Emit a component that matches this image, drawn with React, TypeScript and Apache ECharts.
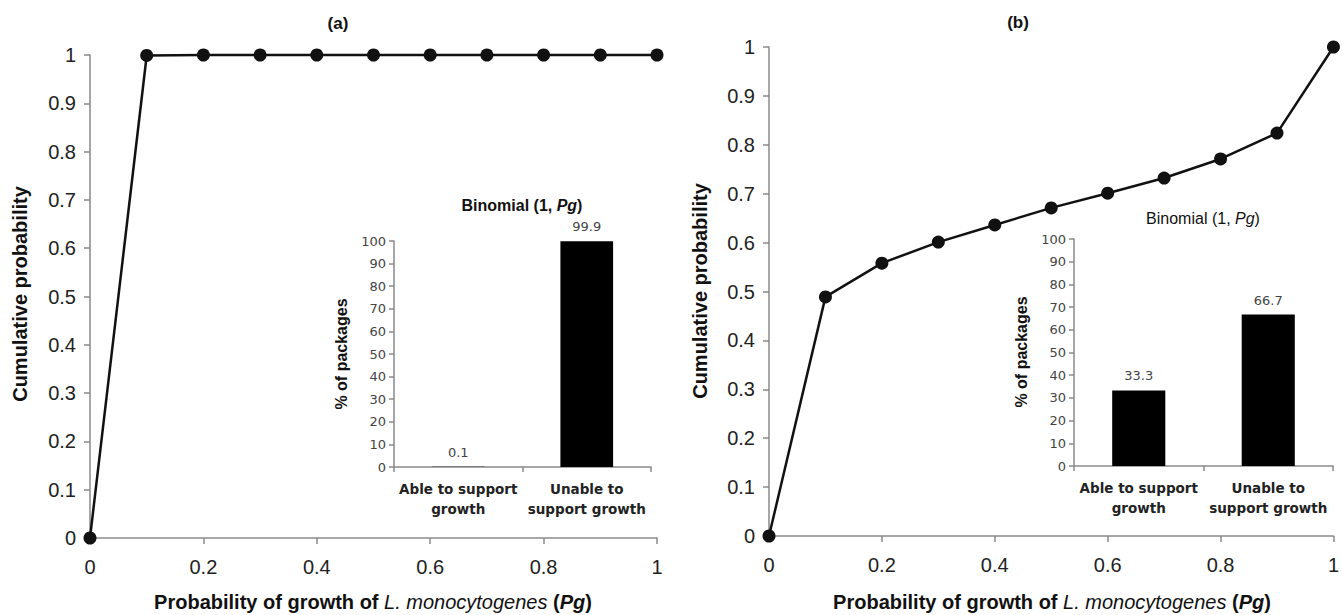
import React, { useEffect, useRef } from "react";
import * as echarts from "echarts";

const pgValues = [0, 0.1, 0.2, 0.3, 0.4, 0.5, 0.6, 0.7, 0.8, 0.9, 1];
const cumProbA = [0, 0.999, 1, 1, 1, 1, 1, 1, 1, 1, 1];
const cumProbB = [0, 0.489, 0.558, 0.601, 0.636, 0.671, 0.701, 0.732, 0.771, 0.824, 1];
const insetCategories = ["Able to support\ngrowth", "Unable to\nsupport growth"];
const insetValuesA = [0.1, 99.9];
const insetValuesB = [33.3, 66.7];

const SANS = "Liberation Sans, Arial, sans-serif";
const WIDE = "DejaVu Sans, Verdana, sans-serif";
const AXIS_GRAY = "#8a8a8a";

function mainX(gridIndex: number) {
  return {
    type: "value",
    gridIndex,
    min: 0,
    max: 1,
    interval: 0.2,
    axisLine: { show: true, lineStyle: { color: AXIS_GRAY, width: 1.5 } },
    axisTick: { show: true, length: 6, lineStyle: { color: AXIS_GRAY, width: 1.5 } },
    axisLabel: { fontFamily: SANS, fontSize: 20, color: "#222", margin: 19 },
    splitLine: { show: false },
  };
}

function mainY(gridIndex: number) {
  return {
    type: "value",
    gridIndex,
    min: 0,
    max: 1,
    interval: 0.1,
    axisLine: { show: true, lineStyle: { color: AXIS_GRAY, width: 1.5 } },
    axisTick: { show: true, length: 6, lineStyle: { color: AXIS_GRAY, width: 1.5 } },
    axisLabel: { fontFamily: SANS, fontSize: 20, color: "#222", margin: 14 },
    splitLine: { show: false },
  };
}

function insetX(gridIndex: number) {
  return {
    type: "category",
    gridIndex,
    data: insetCategories,
    axisLine: { show: true, lineStyle: { color: AXIS_GRAY, width: 1.5 } },
    axisTick: { show: true, alignWithLabel: false, length: 5, lineStyle: { color: AXIS_GRAY, width: 1.5 } },
    axisLabel: {
      fontFamily: WIDE,
      fontSize: 13.5,
      fontWeight: "bold",
      color: "#222",
      lineHeight: 20,
      margin: 12,
      interval: 0,
    },
  };
}

function insetY(gridIndex: number) {
  return {
    type: "value",
    gridIndex,
    min: 0,
    max: 100,
    interval: 10,
    axisLine: { show: true, lineStyle: { color: AXIS_GRAY, width: 1.5 } },
    axisTick: { show: true, length: 5, lineStyle: { color: AXIS_GRAY, width: 1.5 } },
    axisLabel: { fontFamily: WIDE, fontSize: 13, color: "#444", margin: 8 },
    splitLine: { show: false },
  };
}

function lineSeries(idx: number, values: number[]) {
  return {
    type: "line",
    xAxisIndex: idx,
    yAxisIndex: idx,
    data: pgValues.map((x, i) => [x, values[i]]),
    symbol: "circle",
    symbolSize: 13,
    clip: false,
    lineStyle: { color: "#111", width: 2.5 },
    itemStyle: { color: "#111" },
    z: 3,
  };
}

function barSeries(idx: number, values: number[]) {
  return {
    type: "bar",
    xAxisIndex: idx,
    yAxisIndex: idx,
    data: values,
    barWidth: "41%",
    itemStyle: { color: "#000" },
    label: {
      show: true,
      position: "top",
      distance: 8,
      fontFamily: WIDE,
      fontSize: 13,
      color: "#444",
      formatter: (p: any) => String(p.value),
    },
    z: 4,
  };
}

const xTitleRich = {
  b: { fontFamily: SANS, fontSize: 20, fontWeight: "bold", fill: "#111" },
  i: { fontFamily: SANS, fontSize: 20, fontStyle: "italic", fill: "#111" },
  bi: { fontFamily: SANS, fontSize: 20, fontWeight: "bold", fontStyle: "italic", fill: "#111" },
};
const xTitleText = "{b|Probability of growth of }{i|L. monocytogenes }{b|(}{bi|Pg}{b|)}";

function insetTitle(x: number, y: number, weight: string) {
  return {
    type: "text",
    x,
    y,
    style: {
      text: "{n|Binomial (1, }{i|Pg}{n|)}",
      align: "center",
      verticalAlign: "middle",
      rich: {
        n: { fontFamily: SANS, fontSize: 16, fontWeight: weight, fill: "#111" },
        i: { fontFamily: SANS, fontSize: 16, fontWeight: weight, fontStyle: "italic", fill: "#111" },
      },
    },
  };
}

function rotatedText(x: number, y: number, text: string, size: number) {
  return {
    type: "text",
    x,
    y,
    rotation: Math.PI / 2,
    style: {
      text,
      align: "center",
      verticalAlign: "middle",
      fontFamily: SANS,
      fontSize: size,
      fontWeight: "bold",
      fill: "#111",
    },
  };
}

export default function App() {
  const ref = useRef<HTMLDivElement>(null);

  useEffect(() => {
    if (!ref.current) return;
    const chart = echarts.init(ref.current, null, { renderer: "svg" });
    chart.setOption({
      animation: false,
      backgroundColor: "#fff",
      grid: [
        { left: 90, top: 55, width: 567, height: 483 },
        { left: 769, top: 47, width: 566, height: 489 },
        { left: 394, top: 241, width: 257, height: 226 },
        { left: 1074, top: 239, width: 259, height: 227 },
      ],
      xAxis: [mainX(0), mainX(1), insetX(2), insetX(3)],
      yAxis: [mainY(0), mainY(1), insetY(2), insetY(3)],
      series: [
        lineSeries(0, cumProbA),
        lineSeries(1, cumProbB),
        barSeries(2, insetValuesA),
        barSeries(3, insetValuesB),
      ],
      graphic: [
        {
          type: "text",
          x: 338,
          y: 23,
          style: { text: "(a)", align: "center", verticalAlign: "middle", fontFamily: SANS, fontSize: 17, fontWeight: "bold", fill: "#111" },
        },
        {
          type: "text",
          x: 1018,
          y: 22,
          style: { text: "(b)", align: "center", verticalAlign: "middle", fontFamily: SANS, fontSize: 17, fontWeight: "bold", fill: "#111" },
        },
        rotatedText(20, 294, "Cumulative probability", 20),
        rotatedText(700, 291, "Cumulative probability", 20),
        {
          type: "text",
          x: 373,
          y: 602,
          style: { text: xTitleText, align: "center", verticalAlign: "middle", rich: xTitleRich },
        },
        {
          type: "text",
          x: 1052,
          y: 602,
          style: { text: xTitleText, align: "center", verticalAlign: "middle", rich: xTitleRich },
        },
        insetTitle(522, 205, "bold"),
        insetTitle(1203, 218, "normal"),
        rotatedText(341, 354, "% of packages", 16),
        rotatedText(1021, 352, "% of packages", 16),
      ],
    });
    return () => chart.dispose();
  }, []);

  return (
    <div
      ref={ref}
      style={{ position: "absolute", left: 0, top: 0, width: 1342, height: 615 }}
    />
  );
}
